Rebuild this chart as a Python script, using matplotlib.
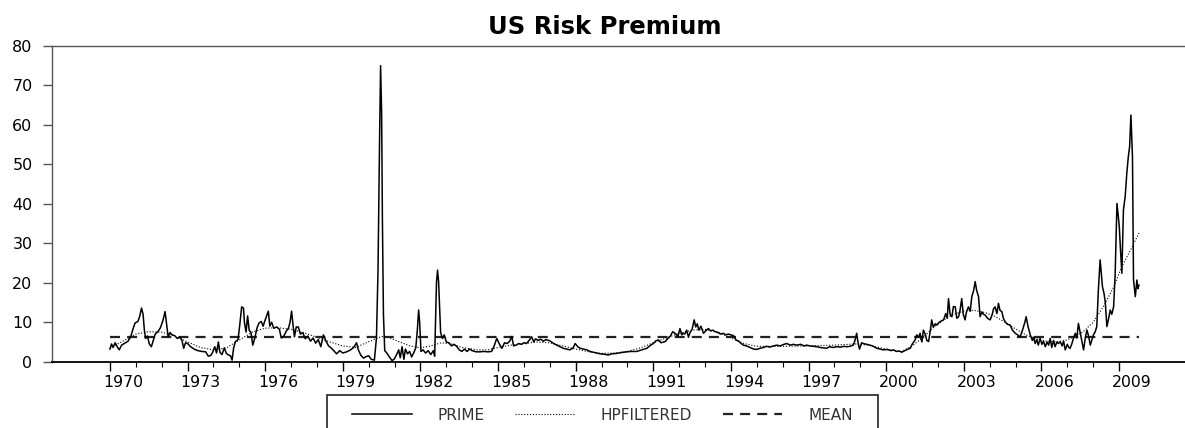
"""US risk premium: prime series, its HP-filtered trend and the sample mean."""

import matplotlib
matplotlib.use("Agg")
import matplotlib.pyplot as plt
from matplotlib.lines import Line2D
from matplotlib.patches import Rectangle

# ---------------------------------------------------------------------------
# Data
# ---------------------------------------------------------------------------

prime_years = [
    1970.00, 1970.06, 1970.12, 1970.20, 1970.28, 1970.36, 1970.45, 1970.55, 1970.70, 1970.80,
    1970.90, 1970.97, 1971.08, 1971.15, 1971.22, 1971.28, 1971.33, 1971.38, 1971.45, 1971.52,
    1971.60, 1971.68, 1971.75, 1971.85, 1971.95, 1972.05, 1972.13, 1972.20, 1972.25, 1972.32,
    1972.40, 1972.50, 1972.60, 1972.70, 1972.78, 1972.85, 1972.92, 1973.00, 1973.10, 1973.25,
    1973.40, 1973.55, 1973.70, 1973.80, 1973.90, 1973.97, 1974.05, 1974.12, 1974.19, 1974.25,
    1974.33, 1974.42, 1974.50, 1974.58, 1974.66, 1974.72, 1974.78, 1974.85, 1974.95, 1975.02,
    1975.09, 1975.16, 1975.20, 1975.26, 1975.32, 1975.38, 1975.45, 1975.52, 1975.60, 1975.68,
    1975.76, 1975.85, 1975.92, 1976.00, 1976.12, 1976.18, 1976.25, 1976.33, 1976.45, 1976.55,
    1976.62, 1976.72, 1976.82, 1976.90, 1976.96, 1977.02, 1977.08, 1977.13, 1977.20, 1977.28,
    1977.36, 1977.45, 1977.55, 1977.65, 1977.75, 1977.85, 1977.95, 1978.05, 1978.15, 1978.25,
    1978.35, 1978.45, 1978.55, 1978.65, 1978.76, 1978.88, 1979.00, 1979.15, 1979.30, 1979.42,
    1979.53, 1979.60, 1979.70, 1979.80, 1979.90, 1980.00, 1980.10, 1980.22, 1980.30, 1980.36,
    1980.42, 1980.46, 1980.50, 1980.53, 1980.57, 1980.62, 1980.70, 1980.80, 1980.90, 1980.98,
    1981.08, 1981.16, 1981.22, 1981.29, 1981.36, 1981.42, 1981.50, 1981.58, 1981.66, 1981.75,
    1981.82, 1981.88, 1981.93, 1981.97, 1982.02, 1982.10, 1982.20, 1982.30, 1982.40, 1982.50,
    1982.55, 1982.62, 1982.66, 1982.70, 1982.74, 1982.78, 1982.85, 1982.92, 1983.00, 1983.10,
    1983.20, 1983.30, 1983.40, 1983.50, 1983.60, 1983.70, 1983.80, 1983.90, 1984.00, 1984.15,
    1984.30, 1984.45, 1984.60, 1984.75, 1984.85, 1984.95, 1985.05, 1985.15, 1985.25, 1985.35,
    1985.45, 1985.53, 1985.60, 1985.70, 1985.80, 1985.90, 1986.00, 1986.10, 1986.20, 1986.30,
    1986.38, 1986.45, 1986.55, 1986.65, 1986.75, 1986.85, 1987.00, 1987.15, 1987.27, 1987.40,
    1987.52, 1987.65, 1987.78, 1987.90, 1987.98, 1988.08, 1988.17, 1988.30, 1988.43, 1988.55,
    1988.68, 1988.80, 1988.94, 1989.10, 1989.26, 1989.40, 1989.59, 1989.75, 1989.97, 1990.15,
    1990.36, 1990.55, 1990.75, 1990.90, 1991.00, 1991.10, 1991.20, 1991.30, 1991.46, 1991.55,
    1991.65, 1991.75, 1991.84, 1991.95, 1992.03, 1992.10, 1992.16, 1992.22, 1992.29, 1992.36,
    1992.42, 1992.50, 1992.58, 1992.64, 1992.70, 1992.76, 1992.84, 1992.94, 1993.05, 1993.13,
    1993.22, 1993.30, 1993.39, 1993.50, 1993.60, 1993.71, 1993.80, 1993.90, 1994.00, 1994.10,
    1994.20, 1994.30, 1994.40, 1994.48, 1994.60, 1994.74, 1994.88, 1995.00, 1995.12, 1995.25,
    1995.38, 1995.50, 1995.65, 1995.77, 1995.90, 1996.05, 1996.16, 1996.30, 1996.42, 1996.54,
    1996.70, 1996.82, 1996.93, 1997.05, 1997.18, 1997.32, 1997.45, 1997.58, 1997.70, 1997.82,
    1997.95, 1998.09, 1998.25, 1998.35, 1998.48, 1998.60, 1998.73, 1998.80, 1998.86, 1998.92,
    1998.97, 1999.05, 1999.12, 1999.25, 1999.38, 1999.50, 1999.64, 1999.77, 1999.89, 2000.05,
    2000.18, 2000.28, 2000.40, 2000.50, 2000.60, 2000.72, 2000.85, 2000.93, 2001.02, 2001.12,
    2001.18, 2001.26, 2001.31, 2001.38, 2001.44, 2001.52, 2001.57, 2001.64, 2001.70, 2001.76,
    2001.82, 2001.90, 2001.96, 2002.05, 2002.15, 2002.22, 2002.30, 2002.36, 2002.41, 2002.47,
    2002.54, 2002.60, 2002.67, 2002.73, 2002.80, 2002.86, 2002.92, 2002.98, 2003.05, 2003.10,
    2003.18, 2003.25, 2003.31, 2003.38, 2003.44, 2003.50, 2003.57, 2003.63, 2003.70, 2003.76,
    2003.83, 2003.92, 2004.02, 2004.10, 2004.15, 2004.21, 2004.28, 2004.34, 2004.40, 2004.47,
    2004.53, 2004.60, 2004.68, 2004.79, 2004.88, 2004.99, 2005.08, 2005.18, 2005.28, 2005.36,
    2005.41, 2005.48, 2005.57, 2005.65, 2005.70, 2005.76, 2005.82, 2005.88, 2005.95, 2006.02,
    2006.08, 2006.15, 2006.22, 2006.28, 2006.34, 2006.40, 2006.47, 2006.53, 2006.60, 2006.66,
    2006.73, 2006.80, 2006.86, 2006.92, 2007.00, 2007.06, 2007.11, 2007.18, 2007.25, 2007.31,
    2007.37, 2007.43, 2007.50, 2007.56, 2007.60, 2007.63, 2007.70, 2007.76, 2007.82, 2007.89,
    2007.95, 2008.01, 2008.08, 2008.14, 2008.20, 2008.27, 2008.32, 2008.36, 2008.42, 2008.47,
    2008.53, 2008.60, 2008.66, 2008.72, 2008.79, 2008.85, 2008.92, 2008.97, 2009.01, 2009.06,
    2009.11, 2009.17, 2009.24, 2009.30, 2009.36, 2009.41, 2009.46, 2009.52, 2009.56, 2009.63,
    2009.69, 2009.73, 2009.77,
]

prime_values = [
    3.2, 4.5, 3.6, 4.8, 3.8, 3.0, 4.2, 4.6, 5.2, 6.3,
    8.5, 9.8, 10.2, 11.5, 13.6, 12.0, 8.0, 5.9, 6.5, 4.5,
    3.8, 5.5, 7.0, 7.6, 8.6, 10.5, 12.7, 9.0, 6.3, 7.4,
    6.8, 6.6, 5.9, 6.2, 5.5, 3.4, 4.8, 4.6, 3.9, 3.2,
    2.8, 2.6, 2.5, 1.4, 1.6, 2.4, 3.8, 2.2, 5.0, 2.4,
    1.8, 3.5, 2.1, 1.7, 1.5, 0.4, 3.5, 5.1, 5.6, 9.5,
    13.9, 13.6, 9.8, 7.5, 11.6, 8.0, 7.4, 4.2, 6.0, 8.5,
    9.8, 10.2, 9.0, 10.6, 12.8, 9.0, 10.0, 8.5, 8.8, 8.2,
    6.0, 6.5, 7.8, 8.5, 10.0, 12.8, 9.0, 6.3, 8.8, 8.8,
    7.0, 7.4, 5.8, 6.5, 5.2, 6.0, 4.7, 5.6, 3.8, 6.8,
    5.2, 4.0, 3.5, 2.8, 2.0, 2.8, 2.2, 2.5, 3.0, 3.6,
    4.8, 3.0, 1.6, 0.9, 1.3, 1.5, 0.6, 0.4, 6.0, 23.0,
    56.0, 75.0, 63.0, 36.0, 12.0, 2.8, 2.2, 1.2, 0.3, 0.6,
    1.8, 3.0, 1.0, 3.8, 0.6, 3.2, 2.0, 2.6, 1.2, 2.4,
    3.5, 8.0, 13.1, 10.0, 2.6, 3.0, 2.2, 2.8, 1.8, 2.8,
    1.4, 20.0, 23.2, 20.5, 14.0, 7.4, 5.9, 6.8, 5.0, 4.8,
    4.0, 4.4, 3.9, 3.0, 2.6, 3.2, 2.6, 3.2, 2.8, 2.5,
    2.5, 2.6, 2.5, 2.6, 4.0, 5.9, 4.5, 3.4, 4.8, 4.6,
    5.2, 6.4, 4.0, 4.2, 4.6, 4.4, 4.8, 4.6, 5.4, 6.3,
    5.0, 5.8, 5.4, 5.7, 5.2, 5.6, 5.3, 4.6, 4.2, 3.8,
    3.4, 3.2, 3.0, 3.5, 4.6, 3.8, 3.4, 3.2, 3.0, 2.6,
    2.4, 2.2, 2.0, 1.9, 1.7, 2.0, 2.1, 2.3, 2.5, 2.6,
    2.6, 3.0, 3.4, 4.2, 4.6, 5.3, 5.5, 4.8, 5.1, 5.8,
    6.4, 7.6, 7.2, 6.4, 8.4, 6.8, 7.2, 7.0, 8.0, 6.2,
    7.4, 8.2, 10.6, 8.8, 9.6, 8.0, 9.0, 7.2, 8.0, 8.4,
    7.8, 8.0, 7.6, 7.4, 7.0, 7.2, 6.8, 7.0, 6.8, 6.6,
    5.5, 5.2, 4.6, 4.2, 4.0, 3.6, 3.2, 3.1, 3.4, 3.6,
    3.9, 3.7, 4.0, 4.2, 4.0, 4.4, 4.6, 4.2, 4.4, 4.2,
    4.4, 4.0, 4.2, 4.0, 3.9, 3.8, 3.6, 3.5, 3.4, 3.8,
    3.6, 3.8, 3.7, 3.9, 3.8, 3.9, 4.2, 5.5, 7.2, 4.5,
    3.2, 4.8, 4.6, 4.4, 4.2, 3.9, 3.4, 3.2, 3.0, 3.1,
    2.8, 3.0, 2.6, 2.7, 2.4, 2.8, 3.2, 3.4, 4.6, 5.5,
    6.8, 6.2, 7.2, 5.0, 8.0, 6.8, 5.4, 5.1, 7.6, 10.6,
    8.8, 9.6, 9.3, 10.0, 10.4, 10.6, 12.2, 11.0, 16.0, 12.0,
    11.4, 14.0, 13.9, 11.0, 11.4, 13.2, 16.0, 12.0, 10.6, 12.5,
    13.9, 12.8, 16.5, 18.0, 20.3, 18.0, 16.5, 11.4, 12.6, 12.0,
    11.8, 11.0, 10.6, 12.0, 13.4, 13.9, 12.2, 14.8, 13.0, 12.7,
    11.0, 10.1, 9.5, 9.3, 8.0, 7.2, 6.8, 6.3, 8.2, 10.0,
    11.4, 9.0, 6.8, 5.4, 6.2, 4.6, 5.6, 4.2, 5.9, 4.4,
    5.2, 3.8, 5.0, 4.2, 5.9, 3.6, 5.4, 3.8, 5.0, 4.6,
    5.1, 4.0, 5.2, 3.0, 4.4, 3.6, 3.4, 4.6, 6.2, 7.2,
    6.0, 9.7, 7.4, 5.5, 4.0, 3.0, 6.2, 8.0, 6.6, 4.2,
    5.5, 6.8, 7.6, 8.9, 18.0, 25.8, 22.0, 19.0, 17.3, 15.0,
    8.9, 11.0, 13.1, 12.0, 13.9, 22.0, 40.1, 37.0, 34.2, 28.0,
    22.4, 38.4, 42.0, 47.7, 52.0, 54.5, 62.5, 51.9, 20.7, 16.5,
    20.7, 18.5, 19.4,
]

hp_years = [
    1970.0, 1970.5, 1971.0, 1971.5, 1972.0, 1972.5, 1973.0, 1973.5, 1974.0, 1974.5,
    1975.0, 1975.5, 1976.0, 1976.5, 1977.0, 1977.5, 1978.0, 1978.5, 1979.0, 1979.5,
    1979.8, 1980.2, 1980.5, 1980.8, 1981.2, 1981.6, 1982.0, 1982.4, 1982.8, 1983.2,
    1983.6, 1984.2, 1984.6, 1985.0, 1985.5, 1986.0, 1986.5, 1987.0, 1987.5, 1988.0,
    1988.5, 1989.0, 1989.5, 1990.0, 1990.5, 1991.0, 1991.5, 1992.0, 1992.5, 1993.0,
    1993.5, 1994.0, 1994.5, 1995.0, 1996.0, 1997.0, 1998.0, 1998.8, 1999.3, 1999.8,
    2000.3, 2000.6, 2001.0, 2001.4, 2001.8, 2002.2, 2002.6, 2003.0, 2003.4, 2003.8,
    2004.2, 2004.6, 2005.0, 2005.4, 2005.8, 2006.2, 2006.6, 2007.0, 2007.6, 2008.0,
    2008.4, 2008.8, 2009.1, 2009.5, 2009.8,
]

hp_values = [
    3.5, 5.2, 7.0, 7.6, 7.5, 6.5, 5.0, 3.6, 3.0, 3.5,
    5.5, 7.5, 8.5, 8.6, 8.2, 7.3, 6.2, 5.0, 4.0, 3.6,
    4.5, 5.6, 6.4, 6.1, 5.0, 4.0, 3.5, 4.0, 4.8, 4.5,
    3.6, 3.0, 3.0, 3.6, 4.2, 4.6, 5.0, 4.8, 4.0, 3.2,
    2.5, 2.1, 2.2, 2.6, 3.5, 4.8, 6.0, 7.2, 8.0, 8.2,
    7.5, 6.0, 4.6, 3.9, 3.9, 4.0, 4.2, 4.5, 4.2, 3.5,
    2.8, 2.6, 4.0, 6.0, 8.5, 10.5, 12.0, 12.8, 13.0, 12.5,
    11.5, 10.0, 8.3, 6.8, 5.8, 5.2, 5.0, 5.5, 7.5, 10.0,
    14.0, 19.0, 24.0, 29.0, 33.0,
]

mean_value = 6.2

y_ticks = [0, 10, 20, 30, 40, 50, 60, 70, 80]
major_years = list(range(1970, 2010, 3))
minor_years = list(range(1970, 2010))
year_labels = [str(y) for y in major_years]

legend_labels = ["PRIME", "HPFILTERED", "MEAN"]

# ---------------------------------------------------------------------------
# Figure
# ---------------------------------------------------------------------------

W, H = 1185, 428
fig = plt.figure(figsize=(W / 100, H / 100), dpi=100)
ax = fig.add_axes([52 / W, 66.3 / H, (W - 52) / W, 315.7 / H])

ax.plot(prime_years, prime_values, color="black", linewidth=1.1, zorder=3)
ax.plot(hp_years, hp_values, color="black", linewidth=0.8,
        linestyle=(0, (1, 1.6)), zorder=2)
mean_line, = ax.plot([prime_years[0], prime_years[-1]], [mean_value, mean_value],
                     color="#222222", linewidth=1.6, zorder=2)
mean_line.set_dashes((4.5, 3.2))

ax.set_xlim(1967.76, 2011.55)
ax.set_ylim(0, 80)

# spines
ax.spines["right"].set_visible(False)
ax.spines["top"].set_color("#555555")
ax.spines["top"].set_linewidth(1.0)
ax.spines["left"].set_color("#555555")
ax.spines["left"].set_linewidth(1.0)
ax.spines["bottom"].set_color("black")
ax.spines["bottom"].set_linewidth(1.3)

# y axis
ax.set_yticks(y_ticks)
ax.tick_params(axis="y", direction="out", length=6.5, width=1.0,
               color="#555555", pad=7.5, labelsize=11.5)

# x axis: ticks at year starts, labels centred on the year
ax.set_xticks(major_years)
ax.set_xticks(minor_years, minor=True)
ax.tick_params(axis="x", which="major", direction="out", length=6.5,
               width=1.0, labelbottom=False)
ax.tick_params(axis="x", which="minor", direction="out", length=3.5, width=0.8)

sec = ax.secondary_xaxis("bottom")
sec.set_xticks([y + 0.5 for y in major_years], year_labels)
sec.tick_params(length=0, pad=9.5, labelsize=11.3)
sec.spines["bottom"].set_visible(False)

fig.text(604.5 / W, 1 - 34 / H, "US Risk Premium", ha="center", va="baseline",
         fontsize=17.5, fontweight="bold")

# legend: box drawn separately so it can run off the bottom edge
box = Rectangle((327 / W, -0.05), (878 - 327) / W, 0.05 + (H - 395) / H,
                transform=fig.transFigure, fill=False, edgecolor="#222222",
                linewidth=1.2)
fig.patches.append(box)

handles = [
    Line2D([], [], color="black", linewidth=1.1),
    Line2D([], [], color="black", linewidth=0.8, linestyle=(0, (1, 1.6))),
    Line2D([], [], color="#222222", linewidth=1.6, dashes=(4.5, 3.2)),
]
fig.legend(handles, legend_labels, loc="center left",
           bbox_to_anchor=(352 / W, 1 - 415 / H), ncol=3, frameon=False,
           fontsize=11, handlelength=3.9, handletextpad=1.7, columnspacing=2.0,
           borderpad=0, borderaxespad=0, labelcolor="#333333")

fig.savefig("out.png", dpi=100)
